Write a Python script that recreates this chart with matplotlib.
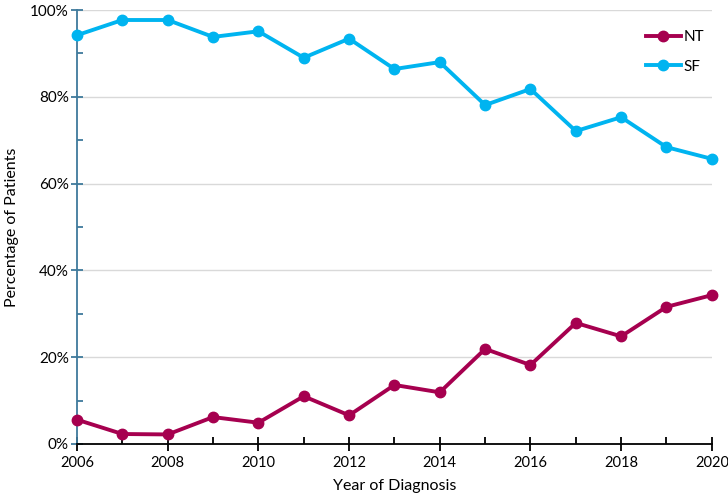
import matplotlib.pyplot as plt
import numpy as np
from matplotlib.ticker import MultipleLocator, FuncFormatter

plt.rcParams['font.family'] = ['Lato', 'DejaVu Sans']

years = list(range(2006, 2021))
nt = [5.6, 2.3, 2.2, 6.2, 4.9, 11.0, 6.6, 13.6, 11.9, 21.9, 18.2, 27.9, 24.8, 31.6, 34.3]
sf = [94.2, 97.7, 97.7, 93.8, 95.1, 89.0, 93.4, 86.4, 88.0, 78.1, 81.8, 72.1, 75.3, 68.4, 65.7]

fig = plt.figure(figsize=(7.28, 5.01), dpi=100)
ax = fig.add_axes([0.1058, 0.1138, 0.872, 0.8662])

ax.plot(years, nt, color='#A6004F', lw=2.8, marker='o', ms=7.5, label='NT', clip_on=False, zorder=3)
ax.plot(years, sf, color='#00B4F0', lw=2.8, marker='o', ms=7.5, label='SF', clip_on=False, zorder=3)

ax.set_xlim(2006, 2020)
ax.set_ylim(0, 100)
ax.xaxis.set_major_locator(MultipleLocator(2))
ax.xaxis.set_minor_locator(MultipleLocator(1))
ax.yaxis.set_major_locator(MultipleLocator(20))
ax.yaxis.set_minor_locator(MultipleLocator(10))
ax.yaxis.set_major_formatter(FuncFormatter(lambda v, p: f'{v:.0f}%'))

ax.grid(axis='y', which='major', color='#d9d9d9', lw=1)
ax.set_axisbelow(True)

for s in ['top', 'right']:
    ax.spines[s].set_visible(False)
ax.spines['left'].set_color('#3F7A9C')
ax.spines['left'].set_linewidth(1.3)
ax.spines['bottom'].set_color('black')
ax.spines['bottom'].set_linewidth(1.3)

ax.tick_params(axis='y', which='major', direction='inout', length=8, color='#3F7A9C', width=1.3, labelsize=11, pad=2)
ax.tick_params(axis='y', which='minor', direction='in', length=4, color='#3F7A9C', width=1.3)
ax.tick_params(axis='x', which='major', direction='inout', length=10, width=1.3, labelsize=10.5, pad=4)
ax.tick_params(axis='x', which='minor', direction='in', length=5, width=1.3)

ax.set_xlabel('Year of Diagnosis', fontsize=11.5, labelpad=6)
ax.set_ylabel('Percentage of Patients', fontsize=11.5, labelpad=8)

ax.legend(loc='upper right', bbox_to_anchor=(1.01, 0.985), frameon=False, fontsize=11,
          handlelength=2.3, handletextpad=0.2, labelspacing=1.0)

plt.savefig('out.png', dpi=100)
